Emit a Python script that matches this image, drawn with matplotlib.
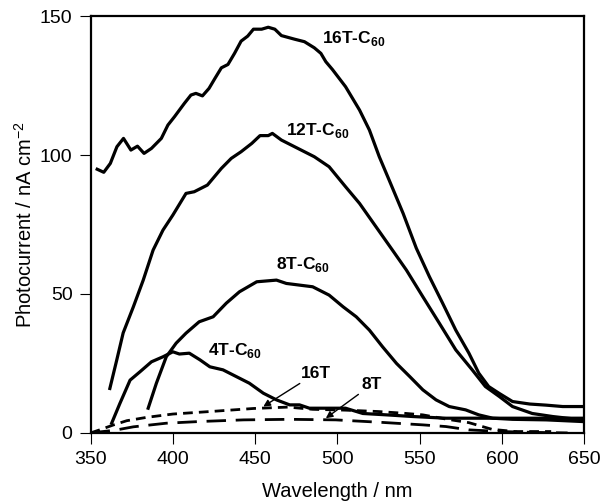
import matplotlib
matplotlib.use("Agg")
import matplotlib.pyplot as plt

plt.rcParams['font.family'] = ['Liberation Sans', 'DejaVu Sans']
plt.rcParams['mathtext.fontset'] = 'custom'
plt.rcParams['mathtext.rm'] = 'Liberation Sans'
plt.rcParams['mathtext.bf'] = 'Liberation Sans:bold'

# 16T-C60
wl_16c = [354, 358, 362, 366, 370, 374.5, 378.5, 382.5, 387, 393, 397, 401, 407, 411, 414, 418, 422,
          425.5, 429.5, 433.5, 437.5, 441.5, 445.5, 449, 454, 458, 462, 466, 474, 480, 486, 490, 493,
          497, 505, 513.5, 519.5, 525.5, 531.5, 540, 548, 556, 564, 572, 580, 586, 592, 598.5, 606.5,
          617, 627, 637, 649]
pc_16c = [94.9, 93.8, 97, 103, 106, 101.8, 103.2, 100.6, 102.4, 106, 110.8, 113.8, 118.6, 121.6, 122.2,
          121.3, 124, 127.5, 131.4, 132.6, 136.6, 141, 142.8, 145.3, 145.3, 146, 145.3, 143, 141.7,
          140.8, 138.6, 136.6, 133.6, 130.8, 124.6, 116.2, 109, 99.4, 91, 79, 66.5, 56.2, 46.7, 37,
          28.7, 21.5, 16.7, 14.2, 11.3, 10.4, 10, 9.5, 9.5]

# 12T-C60
wl_12c = [361.7, 365.8, 369.8, 376, 382, 388, 394, 400, 408, 413, 421, 429.5, 435.5, 441.5, 448, 453,
          458, 460.5, 466, 472, 478, 486, 495, 505, 513.5, 523.5, 533.5, 542, 552, 562, 572, 582, 590,
          598.5, 606.5, 618.5, 631, 649]
pc_12c = [16, 26, 36, 45.4, 55, 65.8, 73, 78.4, 86.2, 86.8, 89.2, 95.2, 98.8, 101.2, 104.2, 107, 107,
          107.8, 105.4, 103.6, 101.8, 99.4, 95.8, 88.6, 82.6, 74.2, 65.8, 58.6, 49, 39.5, 29.9, 22.7,
          16.7, 13.1, 9.5, 7, 5.9, 4.7]

# 8T-C60
wl_8c = [385, 390, 396, 402, 408, 416, 424.5, 432.5, 440.5, 451, 463, 469, 477, 485, 495, 503.5, 511.5,
         519.5, 527.5, 536, 544, 552, 560, 568, 578, 586, 594.5, 606.5, 627, 649]
pc_8c = [8.9, 17.9, 27.4, 32.3, 35.9, 40, 41.8, 46.7, 50.8, 54.4, 55, 53.8, 53.2, 52.6, 49.6, 45.4,
         41.8, 37, 31, 25, 20.3, 15.5, 11.9, 9.5, 8.3, 6.5, 5.3, 4.9, 4.7, 4.1]

# 4T-C60
wl_4c = [362.8, 367.8, 374, 380, 387, 394, 400, 404, 410, 416.5, 422.5, 430.5, 438.5, 446.5, 455, 463,
         471, 477, 483, 489, 505, 515.5, 530, 546, 566, 586, 606.5, 627, 649]
pc_4c = [3.5, 10.6, 19, 22, 25.6, 27.4, 29.2, 28.4, 28.7, 26.3, 23.8, 22.7, 20.3, 17.9, 14.3, 11.9,
         10.1, 10.1, 8.9, 8.9, 8.9, 7, 6.5, 5.9, 5.3, 5.3, 5.3, 5.3, 5.3]

# 16T (dashed)
wl_16 = [350, 355, 364, 372, 384, 400, 425, 449, 470, 485, 505, 525, 540, 552, 566, 580, 594, 608, 630]
pc_16 = [0, 1, 2.9, 4.4, 5.6, 6.8, 7.8, 8.8, 9.3, 8.5, 8.2, 7.7, 7.1, 6.5, 5, 3.7, 1.3, 0.5, 0.5]

# 8T (long dashed)
wl_8 = [350, 365, 376, 396, 416, 443, 471, 499, 527, 552, 566, 580, 600, 620, 640]
pc_8 = [0, 1, 2.2, 3.5, 4.1, 4.7, 4.9, 4.7, 3.8, 2.9, 2.3, 1.1, 0.5, 0.2, 0]

x_ticks = [350, 400, 450, 500, 550, 600, 650]
y_ticks = [0, 50, 100, 150]

fig = plt.figure(figsize=(6.04, 5.04), dpi=100)
ax = fig.add_axes([0.150, 0.141, 0.817, 0.827])

lw = 2.3
ax.plot(wl_16c, pc_16c, color='black', lw=lw, solid_joinstyle='round')
ax.plot(wl_12c, pc_12c, color='black', lw=lw, solid_joinstyle='round')
ax.plot(wl_8c, pc_8c, color='black', lw=lw, solid_joinstyle='round')
ax.plot(wl_4c, pc_4c, color='black', lw=lw, solid_joinstyle='round')
ax.plot(wl_16, pc_16, color='black', lw=2.0, linestyle=(0, (3.5, 2.2)))
ax.plot(wl_8, pc_8, color='black', lw=2.0, linestyle=(0, (7, 3.5)))

tfs = 12.5
ax.text(490.5, 142, r'16T-C$_{\mathbf{60}}$', fontsize=tfs, fontweight='bold', va='center', ha='left')
ax.text(469, 109, r'12T-C$_{\mathbf{60}}$', fontsize=tfs, fontweight='bold', va='center', ha='left')
ax.text(463, 60.5, r'8T-C$_{\mathbf{60}}$', fontsize=tfs, fontweight='bold', va='center', ha='left')
ax.text(421.5, 29.5, r'4T-C$_{\mathbf{60}}$', fontsize=tfs, fontweight='bold', va='center', ha='left')
ax.annotate('16T', xy=(455, 9.5), xytext=(478, 21.5), fontsize=tfs, fontweight='bold',
            va='center', ha='left',
            arrowprops=dict(arrowstyle='-|>', color='black', lw=1.0, shrinkA=0, shrinkB=0,
                            mutation_scale=10, relpos=(0.1, 0.0)))
ax.annotate('8T', xy=(493, 5.3), xytext=(514.5, 17.3), fontsize=tfs, fontweight='bold',
            va='center', ha='left',
            arrowprops=dict(arrowstyle='-|>', color='black', lw=1.0, shrinkA=0, shrinkB=0,
                            mutation_scale=10, relpos=(0.0, 0.0)))

ax.set_xlim(350, 650)
ax.set_ylim(0, 150)
ax.set_xticks(x_ticks)
ax.set_yticks(y_ticks)
ax.tick_params(axis='both', direction='out', length=8, width=0.8, labelsize=14, pad=5)
ax.tick_params(top=False, right=False)
for s in ax.spines.values():
    s.set_linewidth(1.6)

ax.set_xlabel('Wavelength / nm', fontsize=14.5, labelpad=10)
ax.set_ylabel(r'Photocurrent / nA cm$^{-2}$', fontsize=14.5, labelpad=3)

fig.savefig('out.png', dpi=100)
